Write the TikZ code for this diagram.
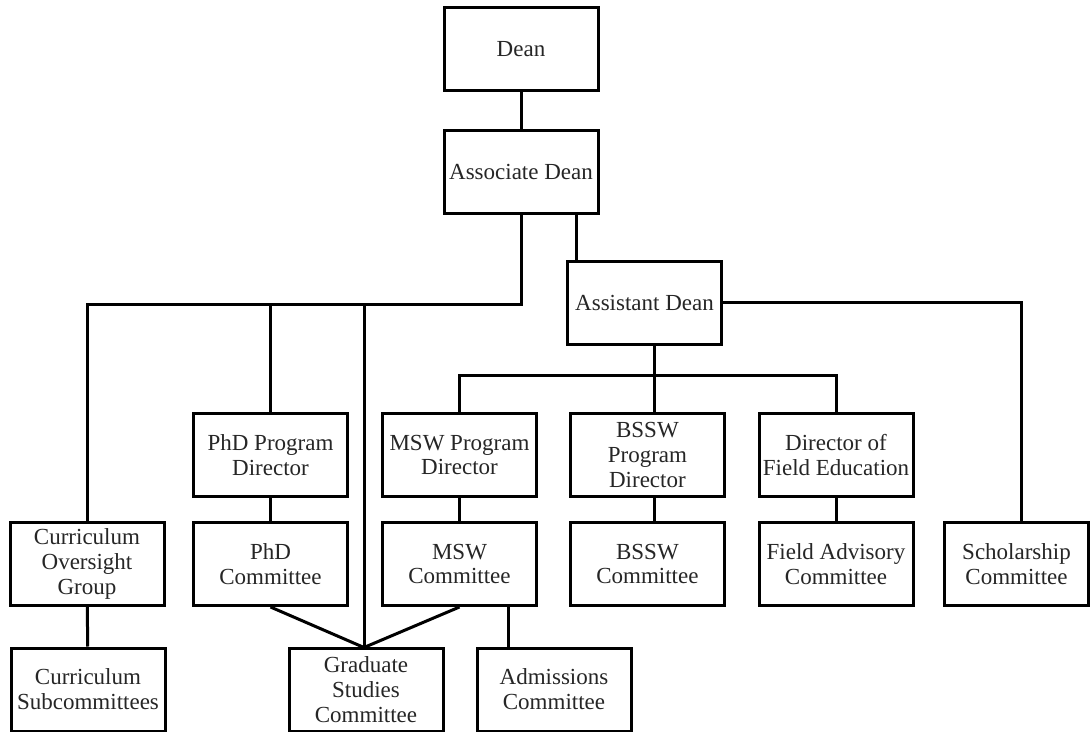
\documentclass[tikz,border=0pt]{standalone}
\usepackage{fontspec}
\setmainfont{Liberation Serif}
\begin{document}
\begin{tikzpicture}[x=0.5pt,y=-0.5pt,
  box/.style={draw=black,line width=1.5pt,fill=white,minimum width=77pt,minimum height=41.5pt,
    align=center,inner sep=1pt,font=\fontsize{11.5pt}{12.4pt}\selectfont,text=black!85},
  conn/.style={draw=black,line width=1.5pt}]
\useasboundingbox (0,0) rectangle (1091,732);
% nodes
\node[box] (dean)   at (521,49.5)  {Dean};
\node[box] (assoc)  at (521,171.8) {Associate Dean};
\node[box] (asst)   at (644.5,303) {Assistant Dean};
\node[box] (cog)    at (87,564)    {Curriculum\\Oversight\\Group};
\node[box] (cs)     at (88,689.5)  {Curriculum\\Subcommittees};
\node[box] (phdpd)  at (270.5,455) {PhD Program\\Director};
\node[box] (phdc)   at (270.5,564) {PhD\\Committee};
\node[box] (mswpd)  at (459.5,455) {MSW Program\\Director};
\node[box] (mswc)   at (459.5,564) {MSW\\Committee};
\node[box] (bsswpd) at (647.4,455) {BSSW\\Program\\Director};
\node[box] (bsswc)  at (647.4,564) {BSSW\\Committee};
\node[box] (dfe)    at (836,455)   {Director of\\Field Education};
\node[box] (fac)    at (836,564)   {Field Advisory\\Committee};
\node[box,minimum width=72pt] (schol) at (1016.5,564) {Scholarship\\Committee};
\node[box] (gsc)    at (366,689.5) {Graduate\\Studies\\Committee};
\node[box] (adm)    at (554,689.5) {Admissions\\Committee};
% helper coordinates
\coordinate (lbus) at (521,305);
\coordinate (phdx) at (270.5,305);
\coordinate (gscx) at (364,305);
\coordinate (gtop) at (364,647.5);
\coordinate (asx)  at (576,0);
\coordinate (bus)  at (654,375);
\coordinate (admx) at (508.6,0);
\coordinate (schx) at (1021,0);
% connectors
\draw[conn] (dean) -- (assoc);
\draw[conn] (assoc.south) |- (lbus -| cog.north) -- (cog.north);
\draw[conn] (phdx) -- (phdpd.north);
\draw[conn] (gscx) -- (gtop);
\draw[conn] (assoc.south -| asx) -- (asst.north -| asx);
\draw[conn] (asst.east) -| (schol.north -| schx);
\draw[conn] (asst.south -| bus) -- (bsswpd.north -| bus);
\draw[conn] (mswpd.north) |- (bus) -| (dfe.north);
\draw[conn] (phdpd) -- (phdc);
\draw[conn] (mswpd) -- (mswc);
\draw[conn] (bsswpd.south -| bus) -- (bsswc.north -| bus);
\draw[conn] (dfe) -- (fac);
\draw[conn] (cog) -- (cs);
\draw[conn] (phdc.south) -- (gtop) -- (mswc.south);
\draw[conn] (mswc.south -| admx) -- (adm.north -| admx);
\end{tikzpicture}
\end{document}
